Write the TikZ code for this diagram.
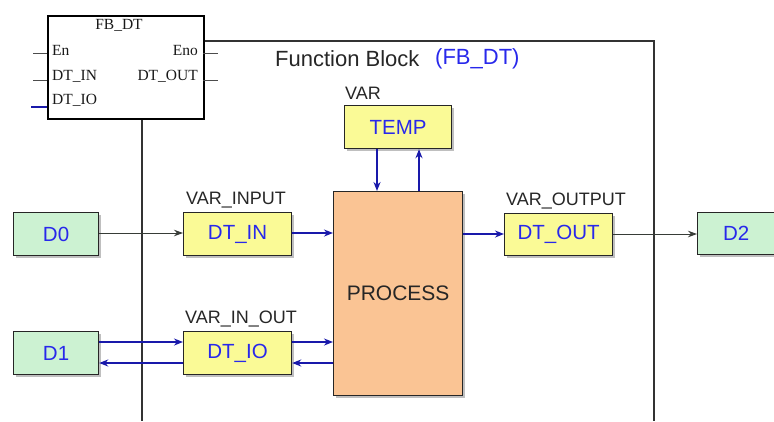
\documentclass[tikz,border=0pt]{standalone}
\usepackage{fontspec}
\setmainfont{Liberation Sans}
\newfontfamily\fbserif{Liberation Serif}
\usetikzlibrary{arrows.meta,shadows}
\definecolor{gfill}{RGB}{204,242,210}
\definecolor{yfill}{RGB}{250,250,150}
\definecolor{pfill}{RGB}{250,196,148}
\definecolor{tblue}{RGB}{40,40,235}
\definecolor{lblue}{RGB}{25,25,170}
\definecolor{ldark}{RGB}{55,60,55}
\tikzset{
  x=1pt, y=-1pt,
  boxshadow/.style={drop shadow={shadow xshift=2pt, shadow yshift=-2pt, opacity=0.25, fill=black}},
  basebox/.style={draw=black!85, line width=1.2pt, inner sep=0pt, anchor=north west, boxshadow},
  gbox/.style={basebox, fill=gfill, text=tblue, font=\fontsize{20.5}{22}\selectfont},
  ybox/.style={basebox, fill=yfill, text=tblue, font=\fontsize{20.5}{22}\selectfont},
  pbox/.style={basebox, fill=pfill, text=black!85, font=\fontsize{21}{23}\selectfont},
  vlabel/.style={font=\fontsize{18}{20}\selectfont, text=black!85, inner sep=0pt},
  fbtxt/.style={font=\fbserif\fontsize{15.5}{16}\selectfont, inner sep=0pt, text=black!90},
  barrow/.style={draw=lblue, line width=1.8pt, -{Stealth[length=9pt,width=7pt]}},
  darrow/.style={draw=ldark, line width=0.9pt, -{Stealth[length=9pt,width=6.5pt]}},
  frame/.style={draw=black!80, line width=1.1pt},
  pin/.style={draw=black!70, line width=0.8pt},
}
\begin{document}
\begin{tikzpicture}
\useasboundingbox (0,0) rectangle (774,421);
% function block frame
\coordinate (fl) at (142,421);
\coordinate (flt) at (142,117);
\coordinate (ft1) at (203,41);
\coordinate (ftr) at (654,41);
\coordinate (fr) at (654,421);
\draw[frame] (flt) -- (fl);
\draw[frame] (ft1) -- (ftr) -- (fr);
\node[anchor=west, inner sep=0pt, font=\fontsize{22}{24}\selectfont, text=black!85] (fbt) at (275,59) {Function Block};
\node[anchor=west, inner sep=0pt, font=\fontsize{22}{24}\selectfont, text=tblue] (fbn) at (435,59) {(FB\_DT)};

% small FB symbol
\node[draw=black, line width=1.8pt, fill=white, anchor=north west, minimum width=156pt, minimum height=103pt, inner sep=0pt] (fb) at (47,15) {};
\node[fbtxt] (fbtitle) at (119,25) {FB\_DT};
\node[fbtxt, anchor=west] (en) at (52,50) {En};
\node[fbtxt, anchor=east] (eno) at (198,50) {Eno};
\node[fbtxt, anchor=west] (dtin) at (52,76) {DT\_IN};
\node[fbtxt, anchor=east] (dtout) at (198,76) {DT\_OUT};
\node[fbtxt, anchor=west] (dtio) at (52,100) {DT\_IO};
\coordinate (p1a) at (33,53); \coordinate (p1b) at (47,53);
\coordinate (p2a) at (33,80); \coordinate (p2b) at (47,80);
\coordinate (p3a) at (31,107); \coordinate (p3b) at (47,107);
\coordinate (p4a) at (203,53); \coordinate (p4b) at (218,53);
\coordinate (p5a) at (203,80); \coordinate (p5b) at (218,80);
\draw[pin] (p1a) -- (p1b);
\draw[pin] (p2a) -- (p2b);
\draw[draw=lblue, line width=1.8pt] (p3a) -- (p3b);
\draw[pin] (p4a) -- (p4b);
\draw[pin] (p5a) -- (p5b);

% boxes
\node[gbox, minimum width=85pt, minimum height=43pt] (d0) at (13,212) {D0};
\node[gbox, minimum width=85pt, minimum height=43pt] (d1) at (13,331) {D1};
\node[gbox, minimum width=77pt, minimum height=42pt] (d2) at (697,212) {D2};
\node[ybox, minimum width=108pt, minimum height=43pt] (in) at (183,212) {DT\_IN};
\node[ybox, minimum width=108pt, minimum height=43pt] (io) at (183,331) {DT\_IO};
\node[ybox, minimum width=108pt, minimum height=42pt] (out) at (504,213) {DT\_OUT};
\node[ybox, minimum width=107pt, minimum height=43pt] (temp) at (344,105) {TEMP};
\node[pbox, minimum width=129pt, minimum height=204pt] (proc) at (333,191) {PROCESS};

% labels
\node[vlabel] (lin) at (236,200) {VAR\_INPUT};
\node[vlabel] (lio) at (241,319) {VAR\_IN\_OUT};
\node[vlabel] (lvar) at (363,93) {VAR};
\node[vlabel] (lout) at (566,201) {VAR\_OUTPUT};

% connectors
\draw[darrow] (d0.east |- 0,233) -- (in.west |- 0,233);
\draw[barrow] (in.east |- 0,233) -- (proc.west |- 0,233);
\draw[barrow] (d1.east |- 0,342) -- (io.west |- 0,342);
\draw[barrow] (io.west |- 0,363) -- (d1.east |- 0,363);
\draw[barrow] (io.east |- 0,342) -- (proc.west |- 0,342);
\draw[barrow] (proc.west |- 0,363) -- (io.east |- 0,363);
\draw[barrow] (temp.south -| 377,0) -- (proc.north -| 377,0);
\draw[barrow] (proc.north -| 419,0) -- (temp.south -| 419,0);
\draw[barrow] (proc.east |- 0,234) -- (out.west |- 0,234);
\draw[darrow] (out.east |- 0,234) -- (d2.west |- 0,234);
\end{tikzpicture}
\end{document}
